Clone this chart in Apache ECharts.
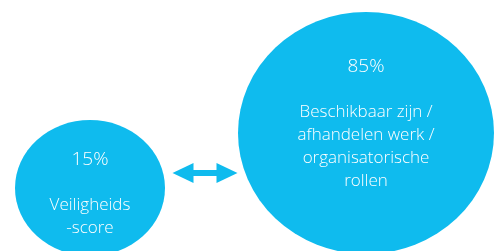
<!DOCTYPE html>
<html>
<head>
<meta charset="utf-8">
<script src="https://cdn.jsdelivr.net/npm/echarts@6/dist/echarts.min.js"></script>
<style>
  html, body { margin: 0; padding: 0; background: #fff; }
  #main { width: 494px; height: 251px; }
</style>
</head>
<body>
<div id="main"></div>
<script>
var labels = ['Veiligheids\n-score', 'Beschikbaar zijn /\nafhandelen werk /\norganisatorische\nrollen'];
var percents = [15, 85];

// layout of the diagram (pixel space)
var centers = [[90, 188], [366, 133]];
var sizes = [[150, 136], [256, 242]];
var textShift = [[0, 6], [0, -9]];

var myChart = echarts.init(document.getElementById('main'));

var blue = '#0fbbee';

var points = percents.map(function (p, i) {
    return {
        name: labels[i],
        value: [centers[i][0], centers[i][1], p],
        symbolSize: sizes[i],
        label: { offset: textShift[i] }
    };
});

var option = {
    animation: false,
    grid: { left: 0, right: 0, top: 0, bottom: 0 },
    xAxis: { type: 'value', min: 0, max: 494, show: false },
    yAxis: { type: 'value', min: 0, max: 251, inverse: true, show: false },
    series: [
        {
            type: 'scatter',
            symbol: 'circle',
            itemStyle: { color: blue, opacity: 1 },
            label: {
                show: true,
                position: 'inside',
                formatter: function (p) {
                    return '{v|' + p.value[2] + '%}\n{g|}\n{n|' + p.name.split('\n').join('}\n{n|') + '}';
                },
                rich: {
                    v: { fontFamily: 'Open Sans', fontWeight: 300, fontSize: 19, color: '#fff', lineHeight: 23 },
                    g: { lineHeight: 22 },
                    n: { fontFamily: 'Open Sans', fontWeight: 300, fontSize: 17, color: '#fff', lineHeight: 23 }
                }
            },
            data: points,
            markLine: {
                silent: true,
                symbol: ['triangle', 'triangle'],
                symbolSize: [20, 21],
                label: { show: false },
                lineStyle: { color: blue, width: 6, type: 'solid', opacity: 1 },
                data: [[{ coord: [183, 173] }, { coord: [227, 173] }]]
            }
        }
    ]
};
myChart.setOption(option);
</script>
</body>
</html>
